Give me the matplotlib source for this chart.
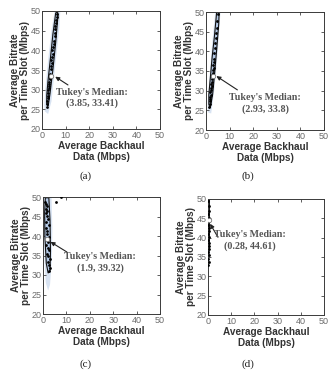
import matplotlib
matplotlib.use("Agg")
import matplotlib.pyplot as plt
from matplotlib.patches import Polygon

# ---------------- data ----------------
xa = [2.1, 2.3, 2.2, 2.5, 2.4, 2.7, 2.6, 2.9, 2.8, 3.1, 3.0, 3.3, 3.5, 3.4, 3.7, 3.9,
      4.1, 4.0, 4.3, 4.6, 4.4, 4.8, 5.0, 4.9, 5.3, 5.4, 5.6, 5.5, 5.9, 6.1, 6.3, 6.5]
ya = [25.6, 26.4, 27.2, 27.8, 28.5, 29.1, 29.8, 30.3, 30.9, 31.4, 32.0, 32.6, 33.0, 34.1, 35.2, 36.0,
      36.8, 37.5, 38.4, 39.1, 40.0, 40.8, 41.7, 42.5, 43.6, 44.4, 45.3, 46.1, 47.0, 47.8, 48.6, 49.2]
bag_a = [(2.0, 26.5), (2.6, 25.8), (3.4, 29), (4.6, 35), (5.8, 42), (6.8, 49.0), (6.6, 49.8),
         (5.8, 49.5), (4.6, 44), (3.4, 37), (2.5, 32), (2.0, 28.5)]
fence_a = [(1.2, 24.5), (2.6, 23.8), (4.0, 27), (5.6, 36), (7.4, 46), (7.8, 50.5), (5.5, 50.5),
           (4.0, 45), (2.5, 37), (1.4, 30), (1.0, 26)]
med_a = (3.85, 33.41)

xb = [1.4, 1.6, 1.5, 1.8, 1.7, 2.0, 1.9, 2.2, 2.1, 2.4, 2.3, 2.5, 2.6, 2.8, 2.7, 3.0, 2.9,
      3.2, 3.1, 3.4, 3.3, 3.6, 3.8, 4.0, 4.2, 4.4, 4.6, 4.8, 5.0]
yb = [25.9, 26.5, 27.3, 27.8, 28.4, 29.0, 29.6, 30.1, 30.7, 31.2, 31.8, 32.3, 32.9, 33.4, 34.0, 34.6, 35.2,
      35.8, 36.5, 37.2, 38.0, 39.5, 40.8, 42.0, 43.3, 44.7, 46.0, 47.8, 49.5]
bag_b = [(1.2, 26.5), (1.8, 25.6), (2.8, 29), (3.6, 34), (4.6, 41), (5.4, 47), (5.6, 50.5),
         (4.6, 50.5), (3.6, 44), (2.6, 38.5), (1.8, 33), (1.2, 29)]
fence_b = [(0.8, 24.5), (2.2, 24.2), (3.5, 30), (5.0, 40), (6.2, 50.5), (4.0, 50.5),
           (2.6, 42), (1.3, 32), (0.7, 27)]
med_b = (2.93, 33.8)

xc = [1.0, 1.2, 1.5, 1.3, 1.8, 1.1, 1.6, 2.0, 1.4, 2.4, 1.2, 1.9, 1.5, 2.6, 1.7, 2.2, 1.3,
      2.0, 2.5, 1.6, 2.3, 2.8, 2.1, 2.6, 2.9, 2.4, 5.5, 7.5]
yc = [48.8, 48.2, 47.6, 47.0, 46.5, 45.8, 45.1, 44.3, 43.5, 42.8, 42.0, 41.2, 40.5, 39.8, 39.3, 38.5, 37.8,
      37.0, 36.3, 35.5, 34.8, 34.0, 33.4, 32.6, 31.8, 31.0, 48.8, 50.0]
bag_c = [(0.8, 40), (1.4, 33), (2.2, 30.5), (3.0, 31), (3.2, 36), (3.0, 44), (2.5, 49.8),
         (1.0, 49.8), (0.7, 46)]
fence_c = [(0.6, 34), (1.2, 28), (2.2, 26), (3.0, 27.5), (3.8, 34), (4.0, 42), (3.6, 50.5),
           (0.4, 50.5), (0.4, 42)]
med_c = (1.9, 39.32)

xd = [0.1, 0.3, 0.2, 0.4, 0.15, 0.35, 0.25, 0.45, 0.1, 0.3, 0.2, 0.4, 0.3, 0.2, 0.35, 0.25,
      0.15, 0.3, 0.4, 0.2]
yd = [33.0, 33.8, 34.6, 35.4, 36.2, 37.0, 37.8, 38.6, 39.4, 40.2, 41.0, 41.8, 42.6, 43.4, 44.2, 45.0,
      46.0, 47.0, 48.2, 49.6]
bag_d = [(0.0, 35), (0.3, 34.5), (0.6, 38), (0.6, 50), (0.0, 50)]
fence_d = [(0.0, 32), (0.4, 31.5), (0.9, 36), (0.9, 50.5), (0.0, 50.5)]
med_d = (0.28, 44.61)

panels = [
    dict(x=xa, y=ya, bag=bag_a, fence=fence_a, med=med_a, label="(a)",
         text=(21.0, 27.9), arrow=((11.0, 31.2), (5.6, 33.3)),
         pos=(42, 11, 160, 129), cap=(86, 176)),
    dict(x=xb, y=yb, bag=bag_b, fence=fence_b, med=med_b, label="(b)",
         text=(25.0, 26.8), arrow=((13.3, 30.2), (4.4, 33.7)),
         pos=(206, 12, 324, 130), cap=(248, 176)),
    dict(x=xc, y=yc, bag=bag_c, fence=fence_c, med=med_c, label="(c)",
         text=(24.4, 33.3), arrow=((10.2, 35.9), (3.2, 38.5)),
         pos=(43, 197, 160, 314), cap=(86, 364)),
    dict(x=xd, y=yd, bag=bag_d, fence=fence_d, med=med_d, label="(d)",
         text=(18.1, 39.3), arrow=((4.3, 40.1), (0.9, 43.6)),
         pos=(208, 199, 324, 315), cap=(248, 364)),
]

W, H = 330, 375
fig = plt.figure(figsize=(W / 100, H / 100), dpi=100)

sans = ["Liberation Sans", "DejaVu Sans"]
serif = ["Liberation Serif", "DejaVu Serif"]

for p in panels:
    l, t, r, b = p["pos"]
    ax = fig.add_axes([l / W, 1 - b / H, (r - l) / W, (b - t) / H])
    ax.set_xlim(0, 50)
    ax.set_ylim(20, 50)
    ax.set_xticks([0, 10, 20, 30, 40, 50])
    ax.set_yticks([20, 25, 30, 35, 40, 45, 50])
    ax.tick_params(direction="in", length=2, width=0.6, labelsize=6.5,
                   labelcolor="#6a6a6a", color="#444444", pad=1.2,
                   top=True, right=True)
    for lab in ax.get_xticklabels() + ax.get_yticklabels():
        lab.set_fontfamily(sans)
    for s in ax.spines.values():
        s.set_color("#3a3a3a")
        s.set_linewidth(0.7)

    ax.add_patch(Polygon(p["fence"], closed=True, facecolor="#d8e3f2",
                         edgecolor="none", zorder=1))
    ax.add_patch(Polygon(p["bag"], closed=True, facecolor="#b4c9e6",
                         edgecolor="#111111", linewidth=0.8, zorder=2))
    ax.scatter(p["x"], p["y"], s=4, color="black", zorder=3, linewidths=0)
    ax.plot([p["med"][0]], [p["med"][1]], marker="o", markersize=3.2,
            markerfacecolor="white", markeredgecolor="#777777",
            markeredgewidth=0.6, zorder=4)

    (sx, sy), (ex, ey) = p["arrow"]
    ax.annotate("", xy=(ex, ey), xytext=(sx, sy),
                arrowprops=dict(arrowstyle="-|>", color="#222222", lw=0.8,
                                mutation_scale=6, shrinkA=0, shrinkB=0),
                zorder=5)
    ax.text(p["text"][0], p["text"][1],
            "Tukey's Median:\n(%s, %s)" % (p["med"][0], p["med"][1]),
            ha="center", va="center", fontsize=7.2, fontweight="bold",
            family=serif, color="#555555", linespacing=1.3, zorder=6)

    ax.set_xlabel("Average Backhaul\nData (Mbps)", fontsize=7.2, fontweight="bold",
                  family=sans, color="#333333", labelpad=1, linespacing=1.1)
    ax.set_ylabel("Average Bitrate\nper Time Slot (Mbps)", fontsize=7.2,
                  fontweight="bold", family=sans, color="#333333", labelpad=0,
                  linespacing=1.1)

    cx, cy = p["cap"]
    fig.text(cx / W, 1 - cy / H, p["label"], ha="center", va="center",
             fontsize=8, family=serif, color="#222222")

fig.savefig("out.png", dpi=100)
